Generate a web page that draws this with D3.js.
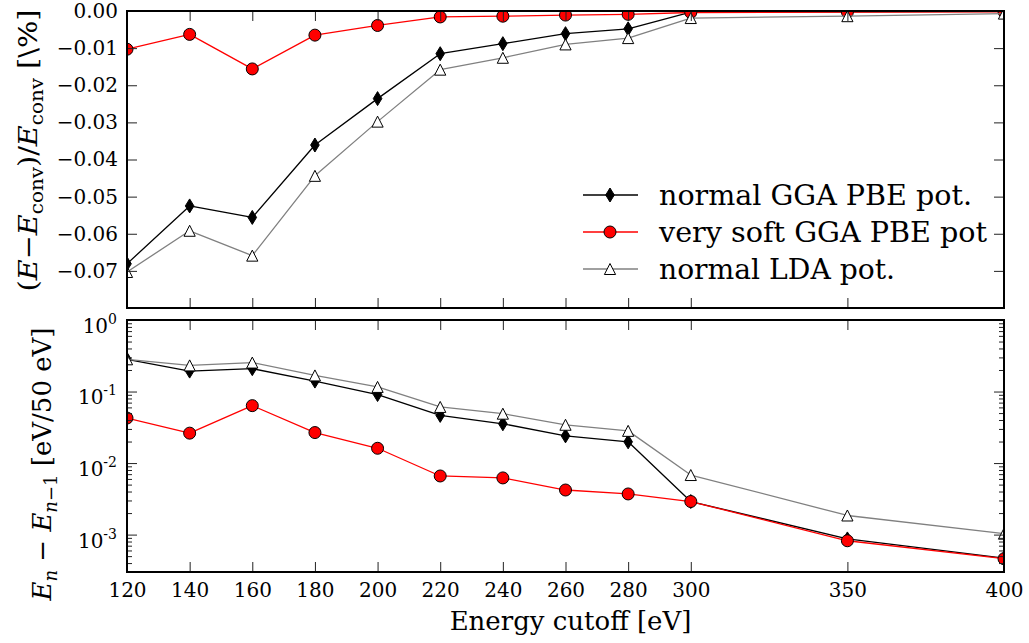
<!DOCTYPE html>
<html>
<head>
<meta charset="utf-8">
<script src="https://cdn.jsdelivr.net/npm/d3@7"></script>
<style>
  html, body { margin: 0; padding: 0; background: #ffffff; }
  svg { display: block; }
  text { font-family: "DejaVu Serif", serif; fill: #000; }
</style>
</head>
<body>
<script>
// Plane-wave cutoff energies [eV]
const cutoffs = [120, 140, 160, 180, 200, 220, 240, 260, 280, 300, 350, 400];

// Relative deviation from the converged total energy [%]
const relNormalGGA = [-0.0681, -0.0525, -0.0556, -0.0361, -0.0236, -0.0115, -0.0088, -0.0061, -0.0048, -0.0003, -0.0002, -0.0001];
const relSoftGGA   = [-0.0103, -0.0063, -0.0156, -0.0065, -0.0039, -0.0016, -0.0014, -0.0011, -0.0009, -0.0004, -0.0003, -0.0002];
const relNormalLDA = [-0.0703, -0.0592, -0.0659, -0.0444, -0.0298, -0.0158, -0.0126, -0.0090, -0.0073, -0.0019, -0.0014, -0.0007];

// Energy change between successive cutoffs [eV / 50 eV]
const diffNormalGGA = [0.282, 0.193, 0.209, 0.140, 0.0908, 0.0464, 0.0354, 0.0240, 0.0198, 0.0029, 0.00087, 0.00047];
const diffSoftGGA   = [0.0426, 0.0262, 0.0635, 0.0267, 0.0161, 0.0066, 0.0062, 0.0042, 0.0037, 0.0029, 0.00082, 0.00046];
const diffNormalLDA = [0.282, 0.232, 0.254, 0.168, 0.116, 0.0609, 0.0490, 0.0343, 0.0282, 0.0068, 0.00185, 0.00103];

// Axis ticks
const relTicks = [-0.07, -0.06, -0.05, -0.04, -0.03, -0.02, -0.01, 0.00];
const logMajorTicks = [1e-3, 1e-2, 1e-1, 1e0];

const seriesNames = ["normal GGA PBE pot.", "very soft GGA PBE pot", "normal LDA pot."];

const W = 1029, H = 643;
const left = 127, right = 1004;
const topPanel = { y0: 11, y1: 308 };
const botPanel = { y0: 320, y1: 572 };

const svg = d3.select("body").append("svg").attr("width", W).attr("height", H);

const x = d3.scaleLinear().domain([120, 400]).range([left, right]);
const yTop = d3.scaleLinear().domain([-0.08, 0]).range([topPanel.y1, topPanel.y0]);
const yBot = d3.scaleLog().domain([3e-4, 1]).range([botPanel.y1, botPanel.y0]);

// marker shapes
const diamondPath = "M0,-7L4.3,0L0,7L-4.3,0Z";
const trianglePath = "M0,-5.5L5.6,5.5L-5.6,5.5Z";

const styles = [
  { line: "#000000", width: 1.3, marker: "diamond", fill: "#000000" },
  { line: "#ff0000", width: 1.3, marker: "circle", fill: "#ff0000" },
  { line: "#808080", width: 1.3, marker: "triangle", fill: "#ffffff" }
];

function drawMarker(g, type, fill) {
  if (type === "circle") {
    return g.append("circle").attr("r", 6).attr("fill", fill).attr("stroke", "#000").attr("stroke-width", 1);
  }
  return g.append("path").attr("d", type === "diamond" ? diamondPath : trianglePath)
    .attr("fill", fill).attr("stroke", "#000").attr("stroke-width", 1).attr("stroke-linejoin", "miter");
}

const defs = svg.append("defs");
defs.append("clipPath").attr("id", "clipTop").append("rect")
  .attr("x", left).attr("y", topPanel.y0).attr("width", right - left).attr("height", topPanel.y1 - topPanel.y0);
defs.append("clipPath").attr("id", "clipBot").append("rect")
  .attr("x", left).attr("y", botPanel.y0).attr("width", right - left).attr("height", botPanel.y1 - botPanel.y0);

function drawSeries(panelG, yScale, datasets) {
  datasets.forEach((vals, i) => {
    const st = styles[i];
    const pts = cutoffs.map((c, j) => [c, vals[j]]);
    panelG.append("path")
      .datum(pts)
      .attr("fill", "none")
      .attr("stroke", st.line)
      .attr("stroke-width", st.width)
      .attr("stroke-linejoin", "round")
      .attr("d", d3.line().x(d => x(d[0])).y(d => yScale(d[1])));
    pts.forEach(p => {
      const m = panelG.append("g").attr("transform", `translate(${x(p[0])},${yScale(p[1])})`);
      drawMarker(m, st.marker, st.fill);
    });
  });
}

// ---------- upper panel: relative error ----------
const gTop = svg.append("g").attr("clip-path", "url(#clipTop)");
drawSeries(gTop, yTop, [relNormalGGA, relSoftGGA, relNormalLDA]);

// ---------- lower panel: successive energy differences ----------
const gBot = svg.append("g").attr("clip-path", "url(#clipBot)");
drawSeries(gBot, yBot, [diffNormalGGA, diffSoftGGA, diffNormalLDA]);

// ---------- axes ----------
function styleAxis(g) {
  g.select(".domain").remove();
  g.selectAll(".tick line").attr("stroke", "#222").attr("stroke-width", 1);
  g.selectAll(".tick text").attr("font-family", "DejaVu Serif").attr("font-size", 20).attr("fill", "#000");
}

// upper panel ticks
svg.append("g").attr("transform", `translate(${left},0)`)
  .call(d3.axisLeft(yTop).tickValues(relTicks).tickSize(-10).tickPadding(9).tickFormat(d3.format(".2f")))
  .call(styleAxis);
svg.append("g").attr("transform", `translate(${right},0)`)
  .call(d3.axisRight(yTop).tickValues(relTicks).tickSize(-10).tickFormat(""))
  .call(styleAxis);
svg.append("g").attr("transform", `translate(0,${topPanel.y0})`)
  .call(d3.axisTop(x).tickValues(cutoffs).tickSize(-10).tickFormat(""))
  .call(styleAxis);
svg.append("g").attr("transform", `translate(0,${topPanel.y1})`)
  .call(d3.axisBottom(x).tickValues(cutoffs).tickSize(-10).tickFormat(""))
  .call(styleAxis);

// lower panel ticks
const logMinorTicks = [];
[1e-4, 1e-3, 1e-2, 1e-1].forEach(dec => {
  for (let k = 2; k <= 9; k++) {
    const v = dec * k;
    if (v >= 3e-4 - 1e-12 && v <= 1) logMinorTicks.push(v);
  }
});

const gBotLeft = svg.append("g").attr("transform", `translate(${left},0)`);
gBotLeft.call(d3.axisLeft(yBot).tickValues(logMajorTicks).tickSize(-10).tickPadding(10).tickFormat(""))
  .call(styleAxis);
gBotLeft.selectAll(".tick text").each(function(d) {
  const t = d3.select(this).attr("dy", "0.62em").text("10");
  t.append("tspan").attr("dy", -9).attr("font-size", 14).text(String(Math.round(Math.log10(d))));
});
svg.append("g").attr("transform", `translate(${left},0)`)
  .call(d3.axisLeft(yBot).tickValues(logMinorTicks).tickSize(-5).tickFormat(""))
  .call(styleAxis);
svg.append("g").attr("transform", `translate(${right},0)`)
  .call(d3.axisRight(yBot).tickValues(logMajorTicks).tickSize(-10).tickFormat(""))
  .call(styleAxis);
svg.append("g").attr("transform", `translate(${right},0)`)
  .call(d3.axisRight(yBot).tickValues(logMinorTicks).tickSize(-5).tickFormat(""))
  .call(styleAxis);
svg.append("g").attr("transform", `translate(0,${botPanel.y0})`)
  .call(d3.axisTop(x).tickValues(cutoffs).tickSize(-10).tickFormat(""))
  .call(styleAxis);
svg.append("g").attr("transform", `translate(0,${botPanel.y1})`)
  .call(d3.axisBottom(x).tickValues(cutoffs).tickSize(-10).tickPadding(11).tickFormat(d3.format("d")))
  .call(styleAxis);

// frames
[topPanel, botPanel].forEach(p => {
  svg.append("rect")
    .attr("x", left).attr("y", p.y0)
    .attr("width", right - left).attr("height", p.y1 - p.y0)
    .attr("fill", "none").attr("stroke", "#000").attr("stroke-width", 2);
});

// ---------- legend ----------
const legendRows = [195, 232, 269];
const legendTextWidths = [313, 328, 236];
seriesNames.forEach((name, i) => {
  const st = styles[i];
  const g = svg.append("g").attr("transform", `translate(0,${legendRows[i]})`);
  g.append("line").attr("x1", 583).attr("x2", 638).attr("y1", 0).attr("y2", 0)
    .attr("stroke", st.line).attr("stroke-width", st.width);
  drawMarker(g.append("g").attr("transform", "translate(610,0)"), st.marker, st.fill);
  g.append("text").attr("x", 659).attr("y", 0).attr("dy", "0.36em")
    .attr("font-size", 28)
    .attr("textLength", legendTextWidths[i]).attr("lengthAdjust", "spacingAndGlyphs")
    .text(name);
});

// ---------- axis labels ----------
svg.append("text")
  .attr("x", (left + right) / 2 + 5).attr("y", 630)
  .attr("text-anchor", "middle").attr("font-size", 26)
  .text("Energy cutoff [eV]");

const yl1 = svg.append("text")
  .attr("transform", `translate(37,${(topPanel.y0 + topPanel.y1) / 2 - 9}) rotate(-90)`)
  .attr("text-anchor", "middle").attr("font-size", 26)
  .attr("textLength", 282).attr("lengthAdjust", "spacingAndGlyphs");
yl1.append("tspan").text("(");
yl1.append("tspan").attr("font-style", "italic").text("E");
yl1.append("tspan").text("\u2212");
yl1.append("tspan").attr("font-style", "italic").text("E");
yl1.append("tspan").attr("font-size", 18).attr("dy", 6).text("conv");
yl1.append("tspan").attr("dy", -6).text(")/");
yl1.append("tspan").attr("font-style", "italic").text("E");
yl1.append("tspan").attr("font-size", 18).attr("dy", 6).text("conv");
yl1.append("tspan").attr("dy", -6).text(" [\\%]");

const yl2 = svg.append("text")
  .attr("transform", `translate(51,${(botPanel.y0 + botPanel.y1) / 2 + 18}) rotate(-90)`)
  .attr("text-anchor", "middle").attr("font-size", 26);
yl2.append("tspan").attr("font-style", "italic").text("E");
yl2.append("tspan").attr("font-style", "italic").attr("font-size", 18).attr("dy", 6).text("n");
yl2.append("tspan").attr("dy", -6).text(" \u2212 ");
yl2.append("tspan").attr("font-style", "italic").text("E");
yl2.append("tspan").attr("font-size", 18).attr("dy", 6).attr("font-style", "italic").text("n");
yl2.append("tspan").attr("font-size", 18).text("\u22121");
yl2.append("tspan").attr("dy", -6).text(" [eV/50 eV]");
</script>
</body>
</html>
